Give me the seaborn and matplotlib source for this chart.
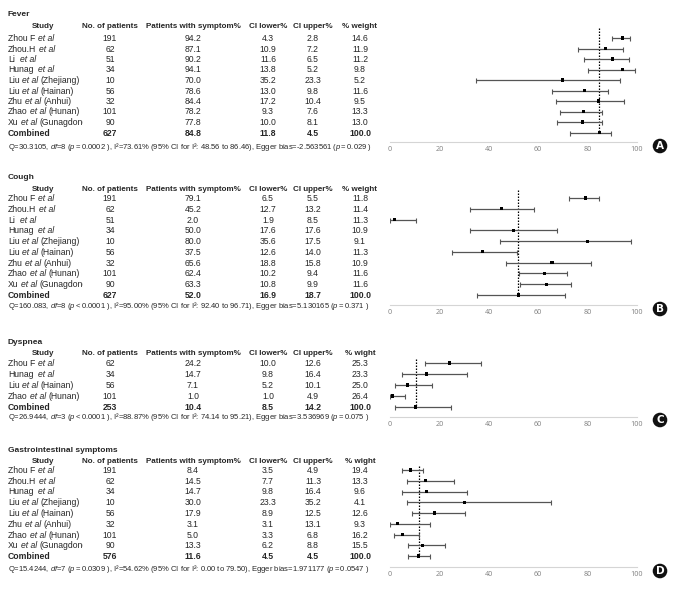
import matplotlib
matplotlib.use('Agg')
import matplotlib.pyplot as plt
import matplotlib.transforms as mtransforms
import seaborn as sns

sns.set_style('white')
plt.rcParams['font.family'] = ['Liberation Sans', 'DejaVu Sans']
plt.rcParams['mathtext.fontset'] = 'custom'
plt.rcParams['mathtext.rm'] = 'Liberation Sans'
plt.rcParams['mathtext.it'] = 'Liberation Sans:italic'
plt.rcParams['mathtext.bf'] = 'Liberation Sans:bold'

# ---- data ----
fever_studies = ["Zhou F et al", "Zhou.H et al", "Li  et al", "Hunag  et al", "Liu et al (Zhejiang)",
                 "Liu et al (Hainan)", "Zhu et al (Anhui)", "Zhao et al (Hunan)", "Xu et al (Gunagdong)", "Combined"]
fever_n = [191, 62, 51, 34, 10, 56, 32, 101, 90, 627]
fever_pct = [94.2, 87.1, 90.2, 94.1, 70.0, 78.6, 84.4, 78.2, 77.8, 84.8]
fever_lo = [4.3, 10.9, 11.6, 13.8, 35.2, 13.0, 17.2, 9.3, 10.0, 11.8]
fever_up = [2.8, 7.2, 6.5, 5.2, 23.3, 9.8, 10.4, 7.6, 8.1, 4.5]
fever_w = [14.6, 11.9, 11.2, 9.8, 5.2, 11.6, 9.5, 13.3, 13.0, 100.0]
fever_stats = (r"Q=30.3105, $\mathit{df}$=8 ($\mathit{p = 0.0002}$ ), I²=73.61% (95% CI for I²: 48.56 to 86.46), "
               r"Egger bias=-2.563561 ($\mathit{p = 0.029}$ )")

cough_studies = fever_studies
cough_n = [191, 62, 51, 34, 10, 56, 32, 101, 90, 627]
cough_pct = [79.1, 45.2, 2.0, 50.0, 80.0, 37.5, 65.6, 62.4, 63.3, 52.0]
cough_lo = [6.5, 12.7, 1.9, 17.6, 35.6, 12.6, 18.8, 10.2, 10.8, 16.9]
cough_up = [5.5, 13.2, 8.5, 17.6, 17.5, 14.0, 15.8, 9.4, 9.9, 18.7]
cough_w = [11.8, 11.4, 11.3, 10.9, 9.1, 11.3, 10.9, 11.6, 11.6, 100.0]
cough_stats = (r"Q=160.083, $\mathit{df}$=8 ($\mathit{p < 0.0001}$ ), I²=95.00% (95% CI for I²: 92.40 to 96.71), "
               r"Egger bias=5.130165 ($\mathit{p = 0.371}$ )")

dysp_studies = ["Zhou F et al", "Hunag  et al", "Liu et al (Hainan)", "Zhao et al (Hunan)", "Combined"]
dysp_n = [62, 34, 56, 101, 253]
dysp_pct = [24.2, 14.7, 7.1, 1.0, 10.4]
dysp_lo = [10.0, 9.8, 5.2, 1.0, 8.5]
dysp_up = [12.6, 16.4, 10.1, 4.9, 14.2]
dysp_w = [25.3, 23.3, 25.0, 26.4, 100.0]
dysp_stats = (r"Q=26.9444, $\mathit{df}$=3 ($\mathit{p < 0.0001}$ ), I²=88.87% (95% CI for I²: 74.14 to 95.21), "
              r"Egger bias=3.536969 ($\mathit{p = 0.075}$ )")

gi_studies = ["Zhou F et al", "Zhou.H et al", "Hunag  et al", "Liu et al (Zhejiang)", "Liu et al (Hainan)",
              "Zhu et al (Anhui)", "Zhao et al (Hunan)", "Xu et al (Gunagdong)", "Combined"]
gi_n = [191, 62, 34, 10, 56, 32, 101, 90, 576]
gi_pct = [8.4, 14.5, 14.7, 30.0, 17.9, 3.1, 5.0, 13.3, 11.6]
gi_lo = [3.5, 7.7, 9.8, 23.3, 8.9, 3.1, 3.3, 6.2, 4.5]
gi_up = [4.9, 11.3, 16.4, 35.2, 12.5, 13.1, 6.8, 8.8, 4.5]
gi_w = [19.4, 13.3, 9.6, 4.1, 12.6, 9.3, 16.2, 15.5, 100.0]
gi_stats = (r"Q=15.4244, $\mathit{df}$=7 ($\mathit{p = 0.0309}$ ), I²=54.62% (95% CI for I²: 0.00 to 79.50), "
            r"Egger bias=1.971177 ($\mathit{p = 0.0547}$ )")

xticks = [0, 20, 40, 60, 80, 100]

panels = [
    dict(title="Fever", letter="A", wlabel="% weight", studies=fever_studies, n=fever_n, pct=fever_pct,
         lo=fever_lo, up=fever_up, w=fever_w, stats=fever_stats,
         title_y=13, header_y=25, row0=38, row1=132.5, stats_y=146.5, top=28, axis_y=142, badge_y=146),
    dict(title="Cough", letter="B", wlabel="% weight", studies=cough_studies, n=cough_n, pct=cough_pct,
         lo=cough_lo, up=cough_up, w=cough_w, stats=cough_stats,
         title_y=176, header_y=188, row0=198, row1=295, stats_y=305.7, top=190, axis_y=305, badge_y=309),
    dict(title="Dyspnea", letter="C", wlabel="% wight", studies=dysp_studies, n=dysp_n, pct=dysp_pct,
         lo=dysp_lo, up=dysp_up, w=dysp_w, stats=dysp_stats,
         title_y=340.7, header_y=351.7, row0=363, row1=407, stats_y=416, top=359, axis_y=417, badge_y=420),
    dict(title="Gastrointestinal symptoms", letter="D", wlabel="% wight", studies=gi_studies, n=gi_n, pct=gi_pct,
         lo=gi_lo, up=gi_up, w=gi_w, stats=gi_stats,
         title_y=449, header_y=460, row0=470, row1=556, stats_y=568, top=466, axis_y=567, badge_y=571),
]

W, H = 686, 590
fig = plt.figure(figsize=(W / 100, H / 100), dpi=100)
renderer = fig.canvas.get_renderer()
px = mtransforms.Affine2D().scale(1 / W, -1 / H).translate(0, 1) + fig.transFigure
name_clip = mtransforms.TransformedBbox(mtransforms.Bbox.from_extents(0, 0, 83 / W, 1), fig.transFigure)

FS = 6.2      # table body
FH = 5.75     # bold header
BL = 3.0      # pixel offset from visual centre to baseline
col_x = dict(n=110, pct=193, lo=268, up=313, w=360)
X0, X1 = 390, 637  # plot area in pixels


def txt(x, y, s, **kw):
    return fig.text(x, y + BL, s, transform=px, va='baseline', **kw)


def text_w(s, **kw):
    t = fig.text(0, 0, s, **kw)
    w = t.get_window_extent(renderer).width
    t.remove()
    return w


space_w = text_w("x x", fontsize=FS) - text_w("xx", fontsize=FS)


def study_name(x, y, name, weight):
    # "et al" in italics, the rest upright; cut at the column edge like the source
    if "et al" in name:
        pre, post = name.split("et al", 1)
        parts = [(pre, 'normal'), ("et al", 'italic'), (post, 'normal')]
    else:
        parts = [(name, 'normal')]
    for s, style in parts:
        lead = len(s) - len(s.lstrip(' '))
        x += lead * space_w
        core = s.strip(' ')
        if core:
            t = txt(x, y, core, fontsize=FS, weight=weight, style=style)
            t.set_clip_box(name_clip)
            t.set_clip_on(True)
            x += t.get_window_extent(renderer).width
        x += (len(s.rstrip(' ')) < len(s) and len(s.strip(' ')) > 0) * (len(s) - len(s.rstrip(' '))) * space_w


for p in panels:
    k = len(p['pct'])
    step = (p['row1'] - p['row0']) / (k - 1)
    rows = list(range(k))

    # table text
    txt(8, p['title_y'], p['title'], fontsize=FH + 0.3, weight='bold')
    hdr_y = p['header_y']
    txt(43, hdr_y, "Study", fontsize=FH, weight='bold', ha='center')
    for key, lab in [('n', "No. of patients"), ('pct', "Patients with symptom%"),
                     ('lo', "CI lower%"), ('up', "CI upper%"), ('w', p['wlabel'])]:
        txt(col_x[key], hdr_y, lab, fontsize=FH, weight='bold', ha='center')

    for i in rows:
        y = p['row0'] + i * step
        wt = 'bold' if i == k - 1 else 'normal'
        study_name(8, y, p['studies'][i], wt)
        vals = dict(n=f"{p['n'][i]}", pct=f"{p['pct'][i]:.1f}", lo=f"{p['lo'][i]:.1f}",
                    up=f"{p['up'][i]:.1f}", w=f"{p['w'][i]:.1f}")
        for key, v in vals.items():
            txt(col_x[key], y, v, fontsize=FS, weight=wt, ha='center')

    txt(8, p['stats_y'] - 0.3, p['stats'], fontsize=5.5)

    # forest plot
    top, bot = p['top'], p['axis_y']
    ax = fig.add_axes([X0 / W, 1 - bot / H, (X1 - X0) / W, (bot - top) / H])
    ylim_bot = (k - 1) + (bot - p['row1']) / step
    ylim_top = -(p['row0'] - top) / step

    ax.errorbar(p['pct'], rows, xerr=[p['lo'], p['up']], fmt='none', ecolor='#555555',
                elinewidth=0.9, capsize=1.8, capthick=0.8, zorder=2)
    sns.scatterplot(x=p['pct'], y=rows, ax=ax, color='black', marker='s', s=5,
                    edgecolor='none', legend=False, zorder=3)
    ax.vlines(p['pct'][-1], ylim_top, k - 1, colors='black', linestyles=(0, (1.2, 1.2)), linewidth=0.9, zorder=1)

    ax.set_xlim(0, 100)
    ax.set_ylim(ylim_bot, ylim_top)
    ax.set_xticks(xticks)
    ax.set_xticklabels([str(v) for v in xticks], fontsize=5.2, color='#888888', family='Noto Sans')
    ax.tick_params(axis='x', direction='in', length=2.5, width=0.6, color='#cccccc', pad=3)
    ax.set_yticks([])
    ax.set_xlabel('')
    ax.set_ylabel('')
    for side in ['top', 'right', 'left']:
        ax.spines[side].set_visible(False)
    ax.spines['bottom'].set_color('#d5d5d5')
    ax.spines['bottom'].set_linewidth(0.8)
    ax.patch.set_alpha(0)

    # panel badge
    fig.text(660, p['badge_y'], p['letter'], transform=px, fontsize=7.5, weight='bold', color='white',
             ha='center', va='center', family='DejaVu Sans',
             bbox=dict(boxstyle='circle,pad=0.22', fc='#111111', ec='none'))

fig.savefig('out.png', dpi=100)
